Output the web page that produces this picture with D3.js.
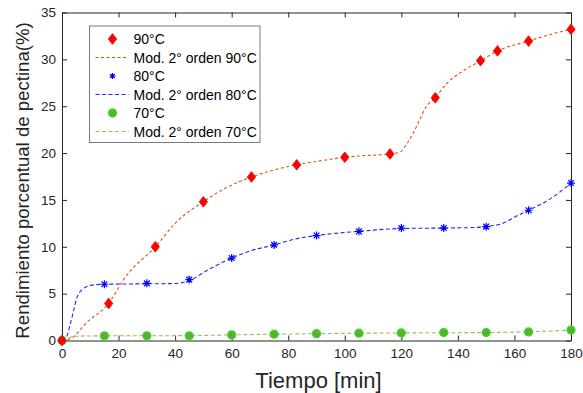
<!DOCTYPE html>
<html>
<head>
<meta charset="utf-8">
<script src="https://cdn.jsdelivr.net/npm/d3@7"></script>
<style>
  body { margin: 0; background: #fff; }
  svg text { font-family: "Liberation Sans", Arial, sans-serif; fill: #262626; }
</style>
</head>
<body>
<div id="chart"></div>
<script>
// measured points (t in min, yield in %)
const t90 = [0, 16.5, 33, 50, 67, 83, 100, 116, 132, 148, 154, 165, 180];
const y90 = [0, 3.95, 10.0, 14.8, 17.45, 18.75, 19.55, 19.9, 25.9, 29.85, 30.9, 31.95, 33.2];
const t80 = [0, 15, 30, 45, 60, 75, 90, 105, 120, 135, 150, 165, 180];
const y80 = [0, 6.0, 6.1, 6.5, 8.8, 10.2, 11.2, 11.65, 12.0, 12.0, 12.15, 13.9, 16.8];
const t70 = [0, 15, 30, 45, 60, 75, 90, 105, 120, 135, 150, 165, 180];
const y70 = [0, 0.5, 0.5, 0.5, 0.6, 0.67, 0.73, 0.78, 0.81, 0.85, 0.85, 0.92, 1.12];

// second order model curves
const m90t = [0, 3, 9, 16.5, 22, 33, 41, 50, 58, 67, 75, 83, 92, 100, 108, 116, 119.5, 121.5, 124, 126.4, 128.7, 132, 136, 142, 148, 154, 165, 172, 180];
const m90y = [0, 0.2, 2.0, 3.95, 6.6, 10.0, 12.8, 14.8, 16.3, 17.45, 18.2, 18.75, 19.2, 19.55, 19.75, 19.9, 20.1, 20.8, 22.0, 23.5, 24.9, 25.9, 27.4, 28.8, 29.85, 30.9, 31.95, 32.6, 33.2];
const m80t = [0, 1.6, 2.8, 4, 5.2, 7, 9.3, 11.7, 15, 30, 40, 45, 52, 60, 67, 75, 82, 90, 105, 120, 135, 145, 150, 155.8, 161.6, 165, 171, 176.3, 180];
const m80y = [0, 0.4, 1.6, 3.05, 4.5, 5.4, 5.8, 5.95, 6.0, 6.05, 6.08, 6.4, 7.6, 8.8, 9.6, 10.2, 10.8, 11.2, 11.65, 11.95, 12.0, 12.05, 12.15, 12.5, 13.4, 13.9, 14.8, 15.9, 16.8];
const m70t = [0, 1.5, 3, 5, 15, 45, 60, 90, 120, 150, 165, 180];
const m70y = [0, 0.15, 0.35, 0.45, 0.5, 0.52, 0.6, 0.73, 0.81, 0.85, 0.93, 1.1];

const xTicks = [0, 20, 40, 60, 80, 100, 120, 140, 160, 180];
const yTicks = [0, 5, 10, 15, 20, 25, 30, 35];
const legendLabels = ['90°C', 'Mod. 2° orden 90°C', '80°C', 'Mod. 2° orden 80°C', '70°C', 'Mod. 2° orden 70°C'];

const W = 583, H = 393;
const margin = { top: 12.5, right: 12, bottom: 52.5, left: 62 };
const width = W - margin.left - margin.right,
  height = H - margin.top - margin.bottom;

const svg = d3.select('#chart').append('svg')
  .attr('width', W).attr('height', H);
const g = svg.append('g')
  .attr('transform', 'translate(' + margin.left + ',' + margin.top + ')');

const x = d3.scaleLinear().domain([0, 180]).range([0, width]);
const y = d3.scaleLinear().domain([0, 35]).range([height, 0]);

const axisCol = '#262626';
const tl = 5;

// axes (box, ticks inward)
const xb = g.append('g').attr('transform', 'translate(0,' + height + ')')
  .call(d3.axisBottom(x).tickValues(xTicks).tickSizeInner(-tl).tickSizeOuter(0).tickPadding(8));
const xt = g.append('g')
  .call(d3.axisTop(x).tickValues(xTicks).tickSizeInner(-tl).tickSizeOuter(0).tickFormat(''));
const yl = g.append('g')
  .call(d3.axisLeft(y).tickValues(yTicks).tickSizeInner(-tl).tickSizeOuter(0).tickPadding(6));
const yr = g.append('g').attr('transform', 'translate(' + width + ',0)')
  .call(d3.axisRight(y).tickValues(yTicks).tickSizeInner(-tl).tickSizeOuter(0).tickFormat(''));
[xb, xt, yl, yr].forEach(a => {
  a.select('.domain').attr('stroke', axisCol).attr('stroke-width', 1);
  a.selectAll('.tick line').attr('stroke', axisCol);
  a.selectAll('.tick text').style('font-size', '13.5px').style('fill', axisCol);
});

// model lines
const line = d3.line()
  .x(d => x(d[0]))
  .y(d => y(d[1]))
  .curve(d3.curveMonotoneX);

const models = [
  { t: m90t, v: m90y, color: '#d95319', dash: '3,2.5' },
  { t: m80t, v: m80y, color: '#2626ff', dash: '4,2.5' },
  { t: m70t, v: m70y, color: '#8fc25a', dash: '4,2.5' }
];
models.forEach(m => {
  g.append('path')
    .datum(m.t.map((t, i) => [t, m.v[i]]))
    .attr('fill', 'none')
    .attr('stroke', m.color)
    .attr('stroke-width', 1.1)
    .attr('stroke-dasharray', m.dash)
    .attr('d', line);
});

// markers
function diamond(cx, cy, w, h) {
  return 'M' + cx + ',' + (cy - h) + 'L' + (cx + w) + ',' + cy +
    'L' + cx + ',' + (cy + h) + 'L' + (cx - w) + ',' + cy + 'Z';
}
function star(cx, cy, r) {
  const d = r * 0.72;
  return 'M' + (cx - r) + ',' + cy + 'L' + (cx + r) + ',' + cy +
    'M' + cx + ',' + (cy - r) + 'L' + cx + ',' + (cy + r) +
    'M' + (cx - d) + ',' + (cy - d) + 'L' + (cx + d) + ',' + (cy + d) +
    'M' + (cx - d) + ',' + (cy + d) + 'L' + (cx + d) + ',' + (cy - d);
}

// 70 (drawn first, under others)
g.append('g').selectAll('circle')
  .data(t70.map((t, i) => [t, y70[i]]))
  .join('circle')
  .attr('cx', d => x(d[0])).attr('cy', d => y(d[1]))
  .attr('r', 4)
  .attr('fill', '#5fae2e')
  .attr('stroke', '#33dd33')
  .attr('stroke-width', 1.3);

g.append('g').selectAll('path')
  .data(t80.map((t, i) => [t, y80[i]]))
  .join('path')
  .attr('d', d => star(x(d[0]), y(d[1]), 4))
  .attr('stroke', '#0000ff')
  .attr('stroke-width', 1.2)
  .attr('fill', 'none');

g.append('g').selectAll('path')
  .data(t90.map((t, i) => [t, y90[i]]))
  .join('path')
  .attr('d', d => diamond(x(d[0]), y(d[1]), 4.1, 5.3))
  .attr('fill', '#ff0000')
  .attr('stroke', '#ee1111')
  .attr('stroke-width', 1);

// axis titles
svg.append('text')
  .attr('x', margin.left + width / 2 + 2)
  .attr('y', 388)
  .attr('text-anchor', 'middle')
  .style('font-size', '22px')
  .text('Tiempo [min]');
svg.append('text')
  .attr('transform', 'translate(29,' + (margin.top + height / 2 + 4) + ') rotate(-90)')
  .attr('text-anchor', 'middle')
  .style('font-size', '18.6px')
  .text('Rendimiento porcentual de pectina(%)');

// legend
const lg = svg.append('g').attr('transform', 'translate(89.5,26)');
lg.append('rect')
  .attr('width', 170.5).attr('height', 116.5)
  .attr('fill', '#fff')
  .attr('stroke', '#7a7a7a')
  .attr('stroke-width', 1);
const rowY = i => 13 + i * 18.5;
legendLabels.forEach((lab, i) => {
  lg.append('text')
    .attr('x', 44).attr('y', rowY(i) + 5)
    .style('font-size', '14px')
    .style('fill', '#000')
    .text(lab);
});
lg.append('path')
  .attr('d', diamond(23, rowY(0), 4.1, 5.3)).attr('fill', '#ff0000').attr('stroke', '#ee1111');
lg.append('path')
  .attr('d', star(23, rowY(2), 3))
  .attr('stroke', '#0000ff').attr('stroke-width', 1.1).attr('fill', 'none');
lg.append('circle')
  .attr('cx', 23).attr('cy', rowY(4)).attr('r', 4)
  .attr('fill', '#5fae2e').attr('stroke', '#33dd33').attr('stroke-width', 1.3);
[1, 3, 5].forEach((r, k) => {
  lg.append('line')
    .attr('x1', 6).attr('x2', 39)
    .attr('y1', rowY(r)).attr('y2', rowY(r))
    .attr('stroke', models[k].color)
    .attr('stroke-width', 1.1)
    .attr('stroke-dasharray', models[k].dash);
});
</script>
</body>
</html>
